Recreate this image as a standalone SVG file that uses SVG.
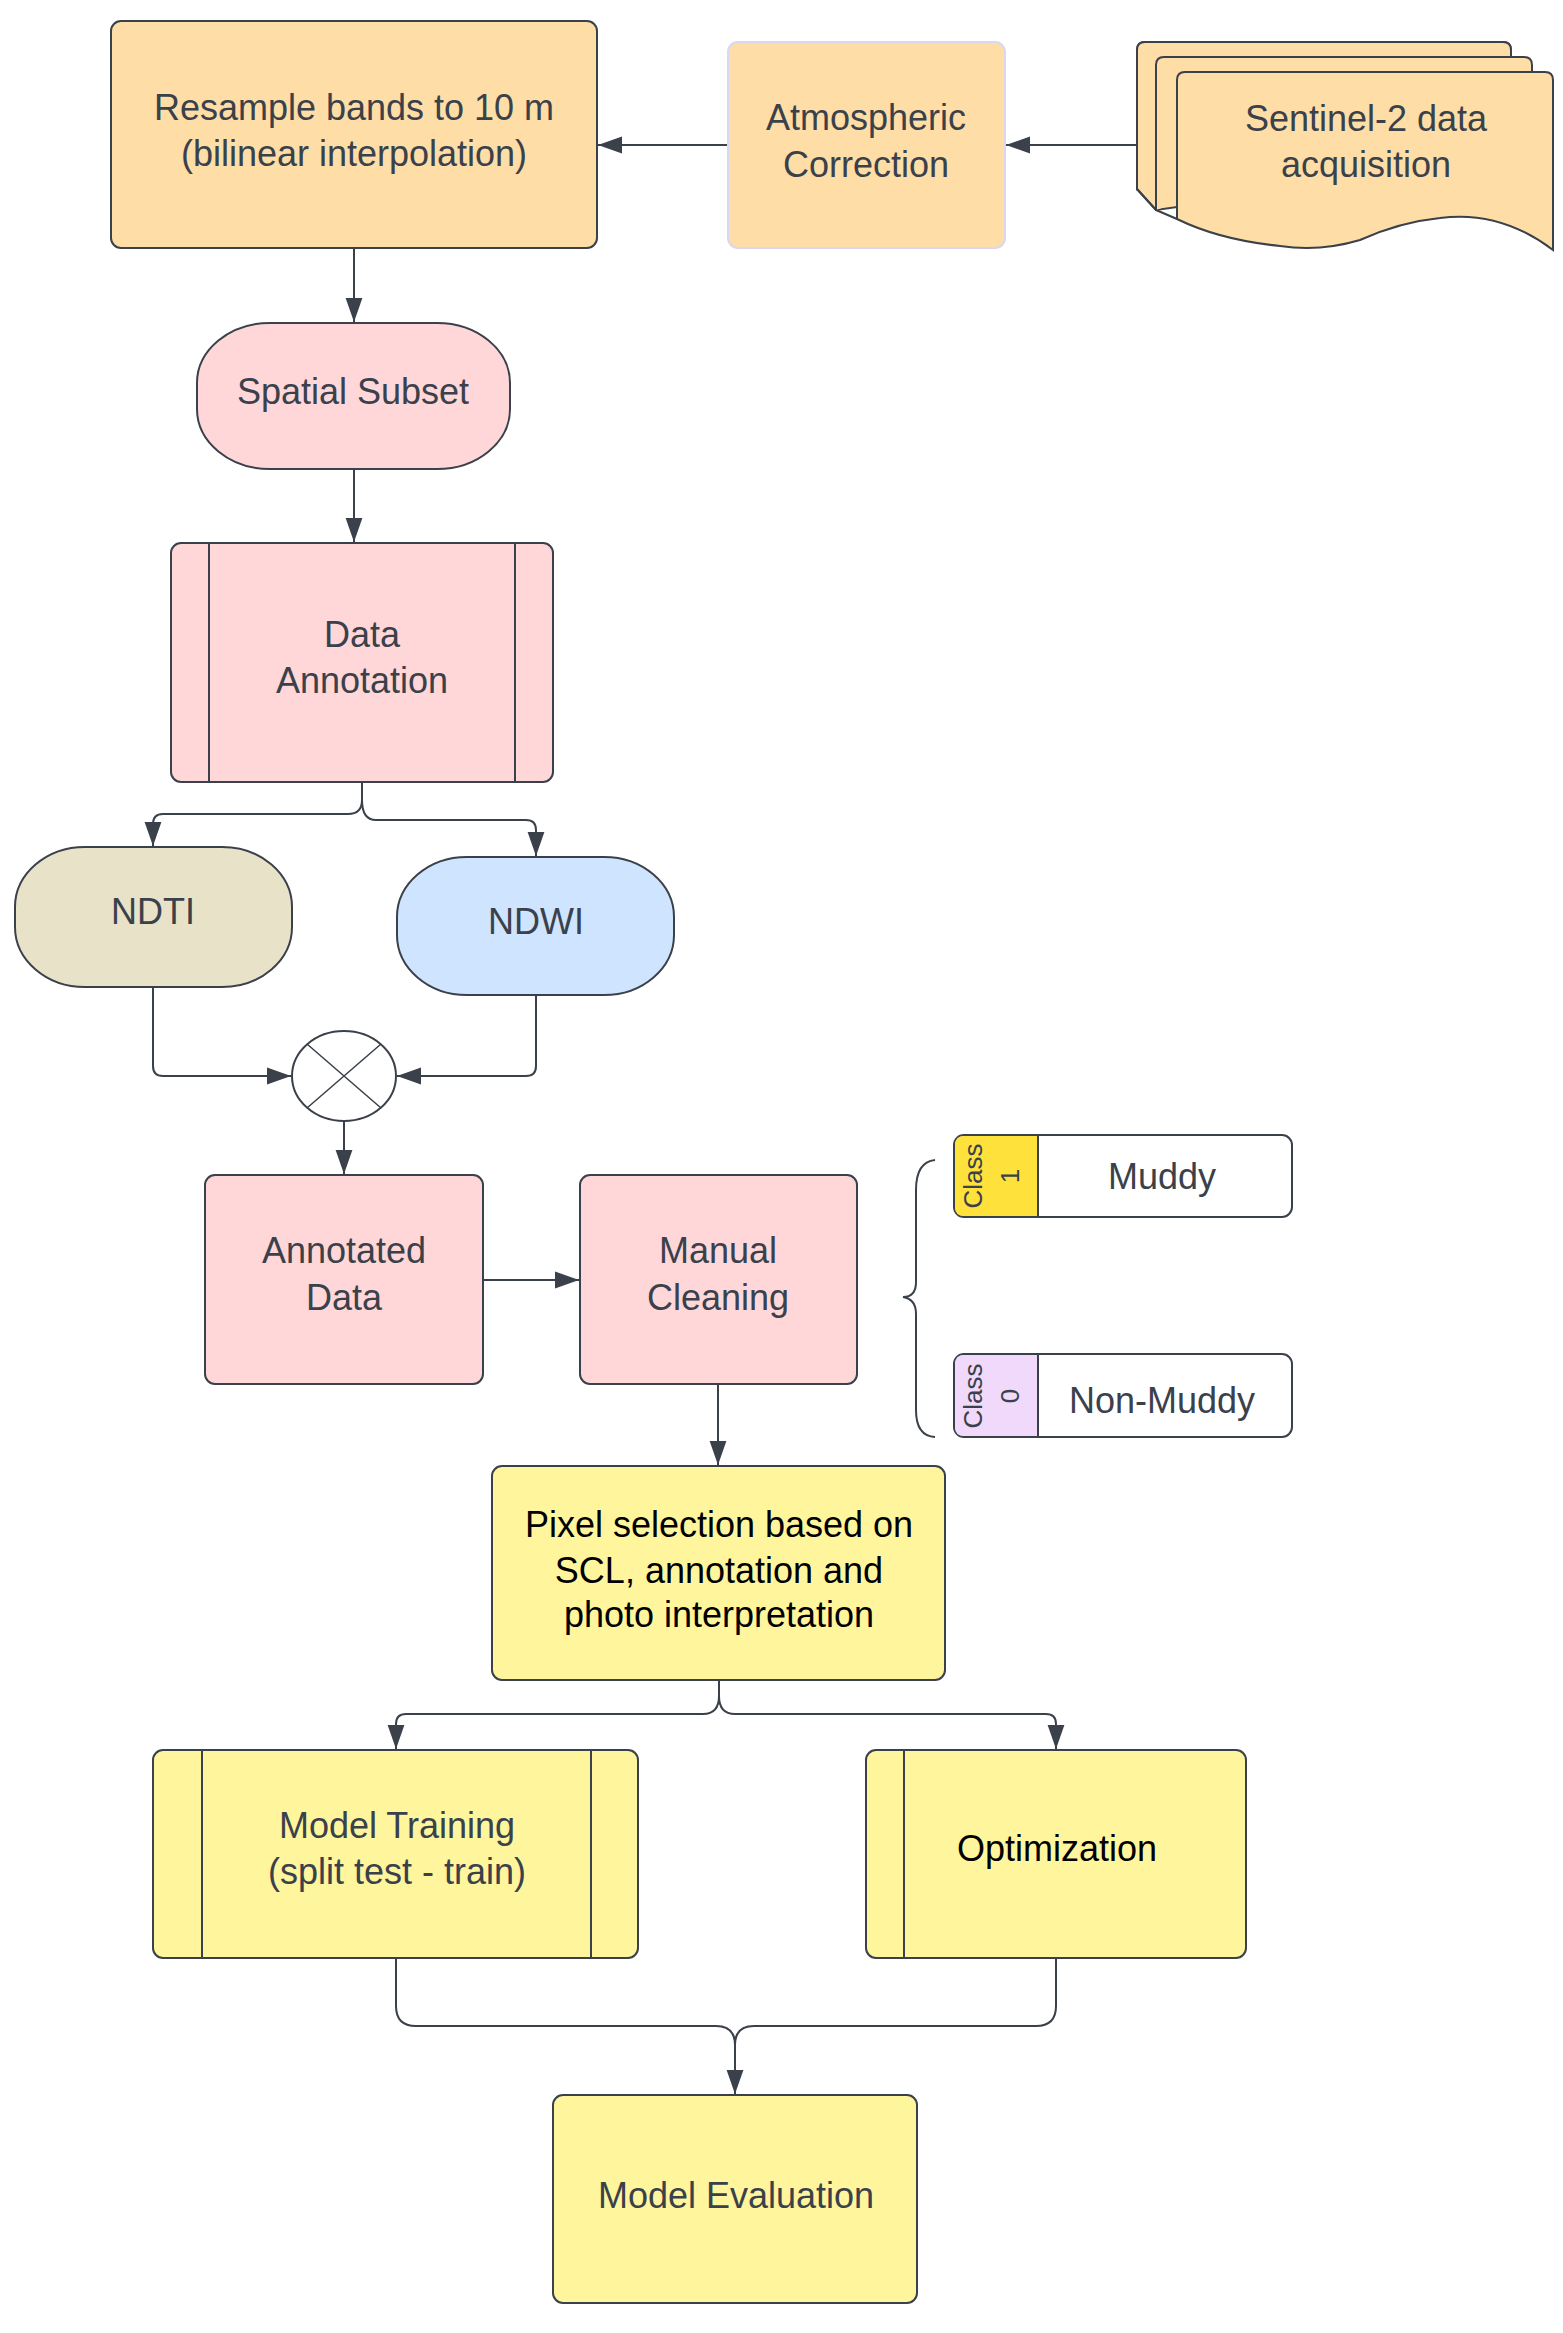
<svg xmlns="http://www.w3.org/2000/svg" width="1563" height="2333" viewBox="0 0 1563 2333">
<defs>
<style>
.n{stroke:#3a414a;stroke-width:2}
.t{font-family:"Liberation Sans",Arial,sans-serif;font-size:36px;fill:#3a414a;text-anchor:middle;dominant-baseline:central}
.k{fill:#000}
.c{fill:none;stroke:#3a414a;stroke-width:2}
.s{font-family:"Liberation Sans",Arial,sans-serif;font-size:26px;fill:#3a414a;text-anchor:middle;dominant-baseline:central}
</style>
<marker id="a" viewBox="0 0 10 10" refX="10" refY="5" markerWidth="14" markerHeight="14" markerUnits="userSpaceOnUse" orient="auto"><path d="M0,0L10,5L0,10z" fill="#3a414a"/></marker>
<marker id="b" viewBox="0 0 10 10" refX="10" refY="5" markerWidth="24" markerHeight="24" markerUnits="userSpaceOnUse" orient="auto"><path d="M0,1.5L10,5L0,8.5z" fill="#3a414a"/></marker>
</defs>
<g id="connectors">
<path class="c" d="M728,145H598" marker-end="url(#b)"/>
<path class="c" d="M1137,145H1006" marker-end="url(#b)"/>
<path class="c" d="M354,248V322" marker-end="url(#b)"/>
<path class="c" d="M354,469V542" marker-end="url(#b)"/>
<path class="c" d="M362,782V800Q362,814 348,814H163Q153,814 153,824V846" marker-end="url(#b)"/>
<path class="c" d="M362,800Q362,820 376,820H526Q536,820 536,830V856" marker-end="url(#b)"/>
<path class="c" d="M153,987V1066Q153,1076 163,1076H291" marker-end="url(#b)"/>
<path class="c" d="M536,995V1066Q536,1076 526,1076H397" marker-end="url(#b)"/>
<path class="c" d="M344,1121V1174" marker-end="url(#b)"/>
<path class="c" d="M484,1280H579" marker-end="url(#b)"/>
<path class="c" d="M718,1384V1465" marker-end="url(#b)"/>
<path class="c" d="M719,1680V1696Q719,1714 703,1714H406Q396,1714 396,1724V1749" marker-end="url(#b)"/>
<path class="c" d="M719,1696Q719,1714 735,1714H1046Q1056,1714 1056,1724V1749" marker-end="url(#b)"/>
<path class="c" d="M396,1958V2006Q396,2026 416,2026H716Q735,2026 735,2045V2094" marker-end="url(#b)"/>
<path class="c" d="M1056,1958V2006Q1056,2026 1036,2026H754Q735,2026 735,2045"/>
<path class="c" d="M935,1160Q916,1162 916,1190V1282Q916,1297 903,1297Q916,1299 916,1314V1410Q916,1436 935,1437" stroke-width="1.5"/>
</g>
<g id="resample"><rect class="n" x="111" y="21" width="486" height="227" rx="10" fill="#fedda6"/><text class="t" x="354" y="107">Resample bands to 10 m</text><text class="t" x="354" y="153">(bilinear interpolation)</text></g>
<g id="atmospheric"><rect x="728" y="42" width="277" height="206" rx="10" fill="#fedda6" stroke="#d8d8f0" stroke-width="2"/><text class="t" x="866" y="117">Atmospheric</text><text class="t" x="866" y="164">Correction</text></g>
<g id="sentinel">
<path class="n" fill="#fedda6" d="M1137,189V50Q1137,42 1145,42H1503Q1511,42 1511,50V60L1137,189z"/>
<path class="n" fill="#fedda6" d="M1137,189V50Q1137,42 1145,42H1503Q1511,42 1511,50V160L1156,210z" stroke="none"/>
<path class="n" fill="#fedda6" d="M1156,210V65Q1156,57 1164,57H1524Q1532,57 1532,65V80"/>
<path class="n" fill="#fedda6" d="M1177,219V80Q1177,72 1185,72H1545Q1553,72 1553,80V250Q1500,210 1440,218Q1400,222 1360,240Q1320,252 1280,246Q1220,240 1177,219z"/>
<path class="n" fill="none" d="M1137,50V189L1156,210M1156,65V210L1177,219"/>
<text class="t" x="1366" y="118">Sentinel-2 data</text><text class="t" x="1366" y="164">acquisition</text></g>
<g id="spatial"><rect class="n" x="197" y="323" width="313" height="146" rx="73" ry="60" fill="#ffd7d9"/><text class="t" x="353" y="391">Spatial Subset</text></g>
<g id="annotation"><rect class="n" x="171" y="543" width="382" height="239" rx="10" fill="#ffd7d9"/><path class="n" d="M209,543V782M515,543V782" stroke-width="1"/><text class="t" x="362" y="634">Data</text><text class="t" x="362" y="680">Annotation</text></g>
<g id="ndti"><rect class="n" x="15" y="847" width="277" height="140" rx="70" ry="60" fill="#e8e2c8"/><text class="t" x="153" y="911">NDTI</text></g>
<g id="ndwi"><rect class="n" x="397" y="857" width="277" height="138" rx="70" ry="60" fill="#cfe4ff"/><text class="t" x="536" y="921">NDWI</text></g>
<g id="merge"><ellipse class="n" cx="344" cy="1076" rx="52" ry="45" fill="#fff" stroke-width="1.5"/><path d="M307,1044L381,1108M381,1044L307,1108" stroke="#3a414a" stroke-width="1.5"/></g>
<g id="annotated"><rect class="n" x="205" y="1175" width="278" height="209" rx="10" fill="#ffd7d9"/><text class="t" x="344" y="1250">Annotated</text><text class="t" x="344" y="1297">Data</text></g>
<g id="cleaning"><rect class="n" x="580" y="1175" width="277" height="209" rx="10" fill="#ffd7d9"/><text class="t" x="718" y="1250">Manual</text><text class="t" x="718" y="1297">Cleaning</text></g>
<g id="class1"><rect class="n" x="954" y="1135" width="338" height="82" rx="10" fill="#fff"/><path d="M964,1136H1038V1216H964Q955,1216 955,1207V1145Q955,1136 964,1136z" fill="#ffe13c"/><path class="n" d="M1038,1135V1217"/><text class="s" transform="translate(973,1176) rotate(-90)">Class</text><text class="s" transform="translate(1010,1176) rotate(-90)">1</text><text class="t" x="1162" y="1176">Muddy</text></g>
<g id="class0"><rect class="n" x="954" y="1354" width="338" height="83" rx="10" fill="#fff"/><path d="M964,1355H1038V1436H964Q955,1436 955,1427V1364Q955,1355 964,1355z" fill="#f0d9fb"/><path class="n" d="M1038,1354V1437"/><text class="s" transform="translate(973,1396) rotate(-90)">Class</text><text class="s" transform="translate(1010,1396) rotate(-90)">0</text><text class="t" x="1162" y="1400">Non-Muddy</text></g>
<g id="pixel"><rect class="n" x="492" y="1466" width="453" height="214" rx="10" fill="#fff59d"/><text class="t k" x="719" y="1524">Pixel selection based on</text><text class="t k" x="719" y="1570">SCL, annotation and</text><text class="t k" x="719" y="1614">photo interpretation</text></g>
<g id="training"><rect class="n" x="153" y="1750" width="485" height="208" rx="10" fill="#fff59d"/><path class="n" d="M202,1750V1958M591,1750V1958" stroke-width="1.5"/><text class="t" x="397" y="1825">Model Training</text><text class="t" x="397" y="1871">(split test - train)</text></g>
<g id="optimization"><rect class="n" x="866" y="1750" width="380" height="208" rx="10" fill="#fff59d"/><path class="n" d="M904,1750V1958" stroke-width="1"/><text class="t k" x="1057" y="1848">Optimization</text></g>
<g id="evaluation"><rect class="n" x="553" y="2095" width="364" height="208" rx="10" fill="#fff59d"/><text class="t" x="736" y="2195">Model Evaluation</text></g>
</svg>
